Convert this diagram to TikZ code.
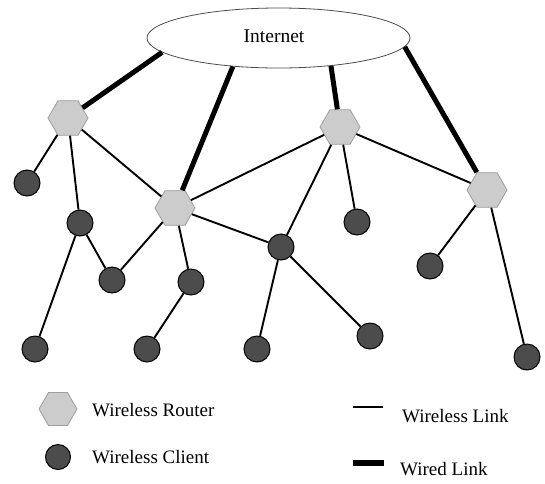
\documentclass[tikz,border=0pt]{standalone}
\usepackage{fontspec}
\setmainfont{Liberation Serif}
\usetikzlibrary{shapes.geometric}
\definecolor{routerfill}{gray}{0.80}
\definecolor{routeredge}{gray}{0.62}
\definecolor{clientfill}{gray}{0.30}
\tikzset{
  router/.style={regular polygon, regular polygon sides=6, minimum size=40pt,
    inner sep=0pt, fill=routerfill, draw=routeredge, line width=0.8pt},
  client/.style={circle, minimum size=26pt, inner sep=0pt, fill=clientfill,
    draw=black, line width=1pt},
  wireless/.style={line width=1.9pt, black},
  wired/.style={line width=5pt, black},
  legendtext/.style={anchor=west, font=\fontsize{19}{21}\selectfont, inner sep=0pt},
}
\begin{document}
\begin{tikzpicture}[x=1pt,y=-1pt]
\useasboundingbox (0,0) rectangle (545,483);

% Internet cloud
\node[ellipse, draw=black!70, line width=0.8pt, minimum width=263pt, minimum height=60pt,
      inner sep=0pt] (inet) at (278.5,38) {};
\node[font=\fontsize{19.5}{21}\selectfont, inner sep=0pt] (inettext) at (274,36) {Internet};

% Wireless routers
\node[router] (r1) at (68,118) {};
\node[router] (r2) at (340,127) {};
\node[router] (r3) at (175,208) {};
\node[router] (r4) at (487,190) {};

% Wireless clients
\node[client] (c1) at (27,183) {};
\node[client] (c2) at (80,223) {};
\node[client] (c3) at (357,222) {};
\node[client] (c4) at (281,247) {};
\node[client] (c5) at (112,280) {};
\node[client] (c6) at (191,282) {};
\node[client] (c7) at (430,266) {};
\node[client] (c8) at (35,349) {};
\node[client] (c9) at (147,349) {};
\node[client] (c10) at (257,349) {};
\node[client] (c11) at (370,336) {};
\node[client] (c12) at (527,357) {};

% Wired links to the Internet
\draw[wired] (inet.-173) -- (r1);
\draw[wired] (inet.-148) -- (r3);
\draw[wired] (inet.-28) -- (r2);
\draw[wired] (inet.-4.8) -- (r4);

% Wireless links
\draw[wireless] (r1) -- (c1);
\draw[wireless] (r1) -- (c2);
\draw[wireless] (r1) -- (r3);
\draw[wireless] (r3) -- (r2);
\draw[wireless] (r3) -- (c4);
\draw[wireless] (r3) -- (c5);
\draw[wireless] (r3) -- (c6);
\draw[wireless] (r2) -- (c4);
\draw[wireless] (r2) -- (c3);
\draw[wireless] (r2) -- (r4);
\draw[wireless] (r4) -- (c7);
\draw[wireless] (r4) -- (c12);
\draw[wireless] (c2) -- (c5);
\draw[wireless] (c2) -- (c8);
\draw[wireless] (c6) -- (c9);
\draw[wireless] (c4) -- (c10);
\draw[wireless] (c4) -- (c11);

% Legend
\node[router, minimum size=38pt] (lr) at (58,409) {};
\node[legendtext] (lrt) at (92,410) {Wireless Router};
\node[client, minimum size=25pt] (lc) at (58,457) {};
\node[legendtext] (lct) at (92,457) {Wireless Client};
\coordinate (wl1) at (353,407);
\coordinate (wl2) at (383,407);
\draw[wireless] (wl1) -- (wl2);
\node[legendtext] (lwt) at (402,416) {Wireless Link};
\coordinate (wd1) at (353,463);
\coordinate (wd2) at (384,463);
\draw[wired, line width=6pt] (wd1) -- (wd2);
\node[legendtext] (ldt) at (400,469.5) {Wired Link};
\end{tikzpicture}
\end{document}
